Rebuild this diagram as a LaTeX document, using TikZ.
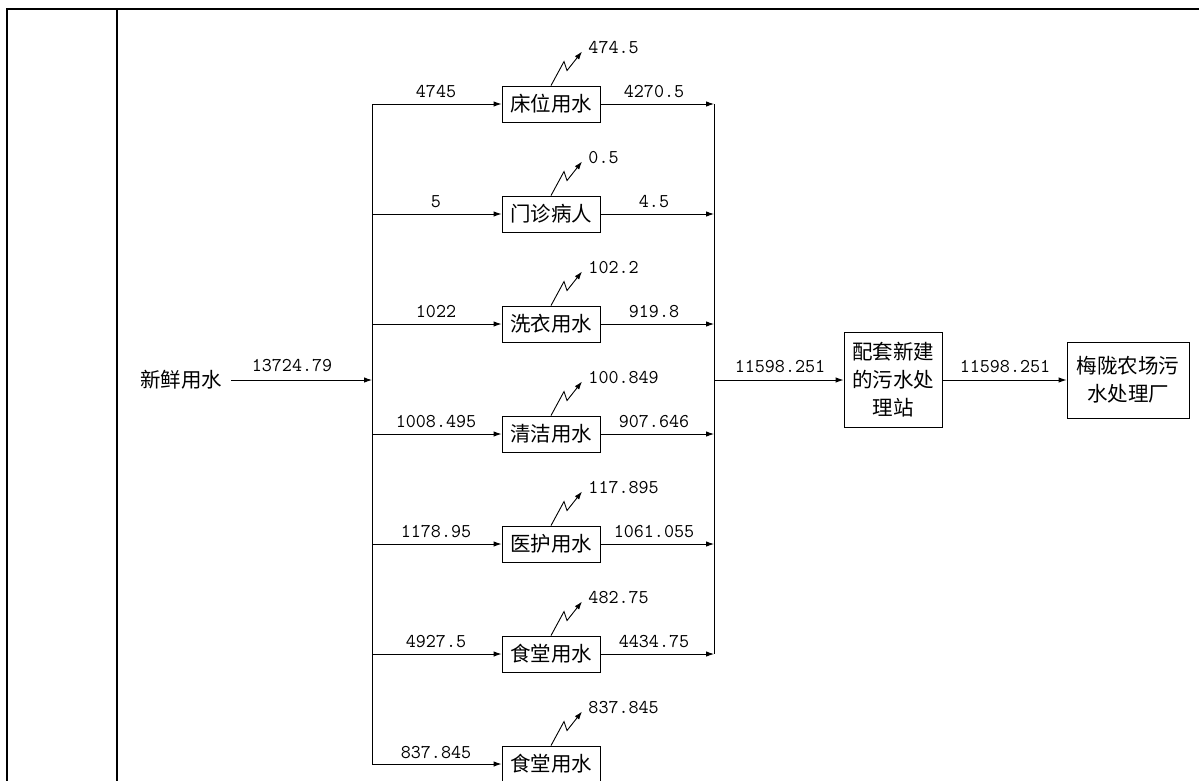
\documentclass[tikz,border=0pt]{standalone}
\usepackage{fontspec}
\newfontfamily\cjk{Noto Sans CJK SC}
\usetikzlibrary{arrows.meta}
\begin{document}
\begin{tikzpicture}[x=1pt,y=-1pt,line width=0.9pt,>={Latex[length=8pt,width=5.5pt]},
  box/.style={draw,minimum width=98pt,minimum height=36pt,inner sep=0pt,align=center,
    font=\cjk\fontsize{20.5}{28}\selectfont},
  numlbl/.style={font=\ttfamily\fontsize{19.5}{22}\selectfont,inner sep=0pt},
  plain/.style={font=\cjk\fontsize{20.5}{28}\selectfont,inner sep=0pt}]
\useasboundingbox (0,0) rectangle (1199,780);
% frame
\draw[line width=2.6pt] (7,781) -- (7,9) -- (1200,9);
\draw[line width=1.2pt] (117,9) -- (117,781);
% rows
\foreach \i/\nm/\vin/\vloss in {0/床位用水/4745/474.5, 1/门诊病人/5/0.5, 2/洗衣用水/1022/102.2,
  3/清洁用水/1008.495/100.849, 4/医护用水/1178.95/117.895, 5/食堂用水/4927.5/482.75,
  6/食堂用水/837.845/837.845}{
  \pgfmathsetmacro\yy{104+110*\i}
  \node[box] (b\i) at (551,\yy) {\nm};
  \coordinate (L\i) at (372,\yy);
  \draw[->] (L\i) -- (b\i.west);
  \node[numlbl] (in\i) at (436,\yy-12) {\vin};
  \draw[->] (b\i.north) -- ++(13,-24) -- ++(3,9) -- ++(15,-19) coordinate (t\i);
  \node[numlbl,anchor=west] (ls\i) at (588,\yy-56) {\vloss};
}
\foreach \i/\vout in {0/4270.5, 1/4.5, 2/919.8, 3/907.646, 4/1061.055, 5/4434.75}{
  \pgfmathsetmacro\yy{104+110*\i}
  \coordinate (R\i) at (714,\yy);
  \draw[->] (b\i.east) -- (R\i);
  \node[numlbl] (out\i) at (654,\yy-12) {\vout};
}
% buses
\draw (L0) -- (L6);
\draw (R0) -- (R5);
% source
\node[plain,inner xsep=9pt] (src) at (181,380) {新鲜用水};
\coordinate (Lm) at (372,380);
\draw[->] (src) -- (Lm);
\node[numlbl] (srcl) at (292,366) {13724.79};
% station and plant
\coordinate (Rm) at (714,380);
\node[box,minimum width=98pt,minimum height=95pt] (st) at (893,380) {配套新建\\的污水处\\理站};
\draw[->] (Rm) -- (st);
\node[numlbl] (stl) at (780,367) {11598.251};
\node[box,minimum width=122pt,minimum height=76pt] (pl) at (1128,380) {梅陇农场污\\水处理厂};
\draw[->] (st) -- (pl);
\node[numlbl] (pll) at (1005,367) {11598.251};
\end{tikzpicture}
\end{document}
